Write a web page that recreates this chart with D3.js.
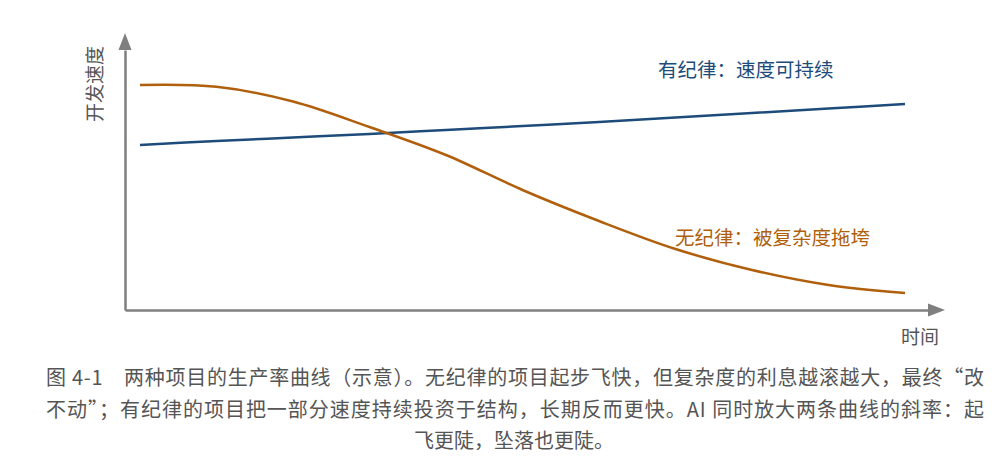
<!DOCTYPE html>
<html>
<head>
<meta charset="utf-8">
<script src="https://cdn.jsdelivr.net/npm/d3@7"></script>
<style>
  body { margin: 0; background: #fff; }
  text { font-family: "Noto Sans CJK SC", "Noto Sans", sans-serif; }
</style>
</head>
<body>
<div id="chart"></div>
<script>
// time steps (arbitrary units) and the two speed curves
let steps = [0, 1, 2, 3, 4, 5, 6, 7, 8, 9, 10];
let disciplined = [66, 67.6, 69, 70.4, 72, 73.6, 75.2, 77, 78.8, 80.6, 82.4];
let undisciplined = [90, 89.3, 83.4, 73.2, 62, 48, 35.6, 24.4, 16, 10, 6.8];

let yLabel = "开发速度";
let xLabel = "时间";
let labelGood = "有纪律：速度可持续";
let labelBad = "无纪律：被复杂度拖垮";
let caption = [
  "图 4-1　两种项目的生产率曲线（示意）。无纪律的项目起步飞快，但复杂度的利息越滚越大，最终“改",
  "不动”；有纪律的项目把一部分速度持续投资于结构，长期反而更快。AI 同时放大两条曲线的斜率：起",
  "飞更陡，坠落也更陡。"
];

let svg = d3.select("#chart").append("svg").attr("width", 1000).attr("height", 465);

let x_scale = d3.scaleLinear().domain([0, 10]).range([140, 905]);
let y_scale = d3.scaleLinear().domain([0, 100]).range([310, 60]);

let axisColor = "#7f7f7f";
let blue = "#1d4b7a";
let orange = "#b05f0c";

// axes (no ticks), with arrow heads
let xAxisScale = d3.scaleLinear().domain([0, 1]).range([125, 930]);
let yAxisScale = d3.scaleLinear().domain([0, 1]).range([310, 50]);

svg.append("g").attr("transform", "translate(0,310)")
  .call(d3.axisBottom(xAxisScale).tickValues([]).tickSizeOuter(0))
  .call(g => g.select(".domain").attr("stroke", axisColor).attr("stroke-width", 2.5));
svg.append("g").attr("transform", "translate(125,0)")
  .call(d3.axisLeft(yAxisScale).tickValues([]).tickSizeOuter(0))
  .call(g => g.select(".domain").attr("stroke", axisColor).attr("stroke-width", 2.5));

svg.append("path").attr("fill", axisColor)
  .attr("d", "M945,310 L928,303.5 L928,316.5 Z");
svg.append("path").attr("fill", axisColor)
  .attr("d", "M125,33 L118.5,50 L131.5,50 Z");

let line = d3.line()
  .x((d, i) => x_scale(steps[i]))
  .y(d => y_scale(d))
  .curve(d3.curveCatmullRom.alpha(0.5));

svg.append("path").datum(disciplined)
  .attr("fill", "none").attr("stroke", blue).attr("stroke-width", 2.5)
  .attr("d", line);
svg.append("path").datum(undisciplined)
  .attr("fill", "none").attr("stroke", orange).attr("stroke-width", 2.5)
  .attr("d", line);

// labels
svg.append("text").attr("x", 658).attr("y", 77)
  .attr("font-size", 19.5).attr("fill", blue).text(labelGood);
svg.append("text").attr("x", 675).attr("y", 245)
  .attr("font-size", 19.5).attr("fill", orange).text(labelBad);

svg.append("text")
  .attr("transform", "translate(102,84) rotate(-90)")
  .attr("text-anchor", "middle")
  .attr("font-size", 19).attr("fill", "#555").text(yLabel);
svg.append("text").attr("x", 920).attr("y", 344)
  .attr("text-anchor", "middle")
  .attr("font-size", 19).attr("fill", "#555").text(xLabel);

// caption
svg.append("text").attr("x", 46).attr("y", 385)
  .attr("font-size", 20).attr("fill", "#555")
  .attr("textLength", 938).attr("lengthAdjust", "spacing")
  .text(caption[0]);
svg.append("text").attr("x", 46).attr("y", 417)
  .attr("font-size", 20).attr("fill", "#555")
  .attr("textLength", 938).attr("lengthAdjust", "spacing")
  .text(caption[1]);
svg.append("text").attr("x", 514).attr("y", 448)
  .attr("text-anchor", "middle")
  .attr("font-size", 20).attr("fill", "#555")
  .text(caption[2]);
</script>
</body>
</html>
